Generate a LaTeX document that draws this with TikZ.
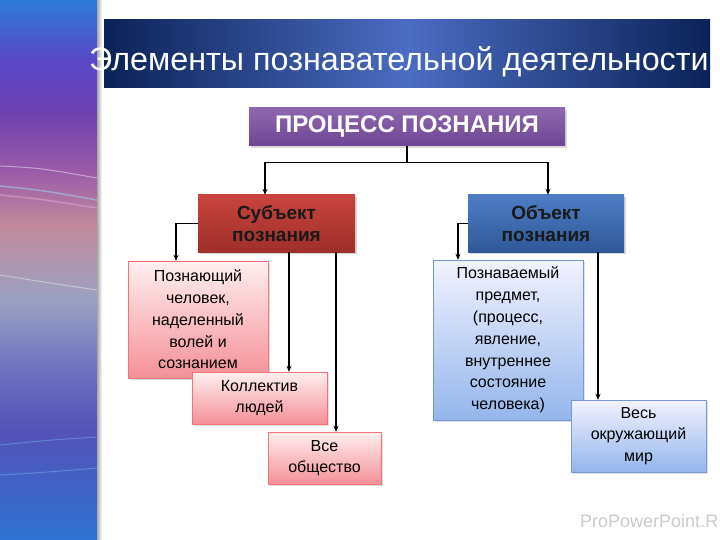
\documentclass[tikz,border=0pt]{standalone}
\usepackage{fontspec}
\setmainfont{Liberation Sans}
\usetikzlibrary{arrows.meta,shadows}
\definecolor{bannerdark}{HTML}{0B2258}
\definecolor{bannerlight}{HTML}{4C6CC2}
\definecolor{procpurple}{HTML}{7A4CA2}
\definecolor{subjred}{HTML}{C63A34}
\definecolor{objblue}{HTML}{3A6EBE}
\definecolor{pinkbox}{HTML}{F49098}
\definecolor{bluebox}{HTML}{94B6EC}
\definecolor{stripA}{HTML}{2E7AD8}
\definecolor{stripB}{HTML}{5A48C8}
\definecolor{stripC}{HTML}{6C40B0}
\definecolor{stripD}{HTML}{9A5AA8}
\definecolor{stripE}{HTML}{C28A9C}
\definecolor{stripF}{HTML}{9AA2C2}
\definecolor{stripG}{HTML}{6E70C0}
\definecolor{stripH}{HTML}{5452B8}
\definecolor{stripI}{HTML}{2E72D2}

\tikzset{
  headbox/.style={draw=none,text=white,font=\fontsize{24}{27}\selectfont\bfseries,
    minimum width=316pt,minimum height=38pt,inner sep=0pt,
    drop shadow={opacity=0.3,shadow xshift=2pt,shadow yshift=-2pt}},
  mainbox/.style={font=\fontsize{19}{22}\selectfont\bfseries,align=center,
    text=black!90,minimum width=157pt,minimum height=57pt,inner sep=0pt,
    drop shadow={opacity=0.3,shadow xshift=2pt,shadow yshift=-2pt}},
  subbox/.style={font=\fontsize{16}{21.8}\selectfont,align=center,inner sep=0pt,
    drop shadow={opacity=0.25,shadow xshift=2pt,shadow yshift=-2pt}},
  redsub/.style={subbox,draw=pinkbox!80!red,top color=red!6,bottom color=pinkbox},
  bluesub/.style={subbox,draw=objblue!70,top color=blue!5,bottom color=bluebox},
  arr/.style={-{Stealth[length=6pt,width=5pt]},line width=1.3pt}
}

\begin{document}
\begin{tikzpicture}[x=1pt,y=-1pt]
  \useasboundingbox (0,0) rectangle (720,540);
  \fill[white] (0,0) rectangle (720,540);

  % left strip
  \shade[top color=stripA,bottom color=stripB] (0,0) rectangle (97,60.5);
  \shade[top color=stripB,bottom color=stripC] (0,60) rectangle (97,110.5);
  \shade[top color=stripC,bottom color=stripD] (0,110) rectangle (97,170.5);
  \shade[top color=stripD,bottom color=stripE] (0,170) rectangle (97,225.5);
  \shade[top color=stripE,bottom color=stripF] (0,225) rectangle (97,300.5);
  \shade[top color=stripF,bottom color=stripG] (0,300) rectangle (97,370.5);
  \shade[top color=stripG,bottom color=stripH] (0,370) rectangle (97,430.5);
  \shade[top color=stripH,bottom color=stripI] (0,430) rectangle (97,540);
  \draw[white,opacity=0.45,line width=1pt] (0,166) .. controls (40,168) .. (97,178);
  \draw[cyan!40,opacity=0.5,line width=1.5pt] (0,186) .. controls (40,190) .. (97,200);
  \draw[violet!30,opacity=0.5,line width=1.5pt] (0,195) .. controls (40,199) .. (97,208);
  \draw[white,opacity=0.4,line width=1pt] (0,275) .. controls (50,283) .. (97,290);
  \draw[cyan!50,opacity=0.35,line width=1pt] (0,445) .. controls (50,440) .. (97,437);
  \draw[cyan!50,opacity=0.35,line width=1pt] (0,475) .. controls (50,472) .. (97,468);
  \shade[left color=gray!70,right color=white] (97,0) rectangle (102,540);

  % title banner
  \shade[left color=bannerdark,right color=bannerdark,middle color=bannerlight] (104,20) rectangle (710,88);
  \node[anchor=west,text=white,font=\fontsize{32.3}{36}\selectfont,inner sep=0pt] (title) at (89,62)
    {Элементы познавательной деятельности};

  % boxes
  \node[headbox,top color=procpurple!85!white,bottom color=procpurple!90!black] (proc) at (407,127) {ПРОЦЕСС ПОЗНАНИЯ};
  \node[mainbox,top color=subjred!95!white,bottom color=subjred!80!black] (subj) at (276.5,223.5) {Субъект\\познания};
  \node[mainbox,top color=objblue!90!white,bottom color=objblue!80!black,minimum width=156pt] (obj) at (546,223.5) {Объект\\познания};

  \node[redsub,minimum width=140pt,minimum height=117pt] (knower) at (198,319.5)
    {Познающий\\человек,\\наделенный\\волей и\\сознанием};
  \node[redsub,minimum width=135pt,minimum height=52pt] (group) at (259.5,398) {Коллектив\\людей};
  \node[redsub,minimum width=113pt,minimum height=52pt] (society) at (324.5,458) {Все\\общество};

  \node[bluesub,minimum width=150pt,minimum height=160pt] (known) at (508,340)
    {Познаваемый\\предмет,\\(процесс,\\явление,\\внутреннее\\состояние\\человека)};
  \node[bluesub,minimum width=135pt,minimum height=72pt] (world) at (638.5,436) {Весь\\окружающий\\мир};

  % connectors
  \draw[arr] (proc.south) -- ++(0,16) -| ([xshift=-11.5pt]subj.north);
  \draw[arr] (proc.south) -- ++(0,16) -| ([xshift=2pt]obj.north);
  \draw[arr] (subj.west) -| ([xshift=-22pt]knower.north);
  \draw[arr] ([xshift=12.5pt]subj.south) -- ([xshift=12.5pt]subj.south |- group.north);
  \draw[arr] ([xshift=59.5pt]subj.south) -- ([xshift=59.5pt]subj.south |- society.north);
  \draw[arr] (obj.west) -| ([xshift=-50pt]known.north);
  \draw[arr] ([xshift=52pt]obj.south) -- ([xshift=52pt]obj.south |- world.north);

  \node[anchor=west,text=gray!40,font=\fontsize{18}{20}\selectfont,inner sep=0pt] (mark) at (580,521) {ProPowerPoint.R};
\end{tikzpicture}
\end{document}
